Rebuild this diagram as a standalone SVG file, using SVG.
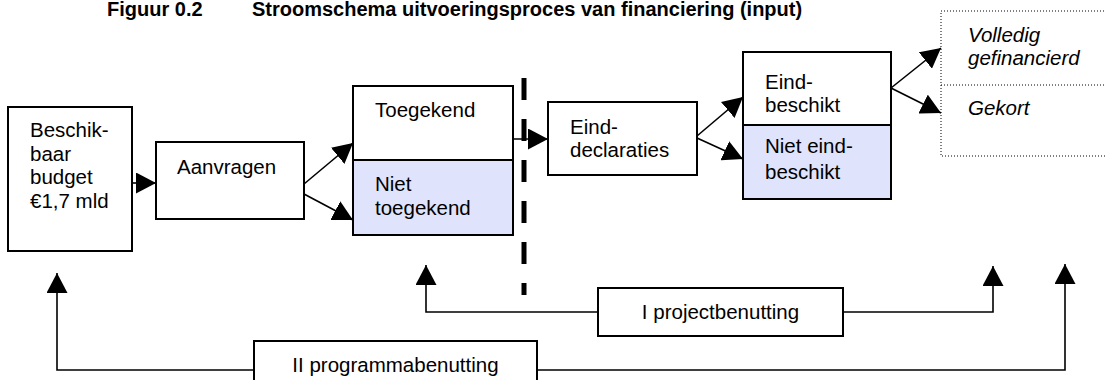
<svg xmlns="http://www.w3.org/2000/svg" width="1105" height="380" viewBox="0 0 1105 380">
<style>
  .box { fill: #ffffff; stroke: #000000; stroke-width: 2; }
  .blue { fill: #DFE3FB; stroke: #000000; stroke-width: 2; }
  .dot { fill: none; stroke: #000000; stroke-width: 1; stroke-dasharray: 1 2; }
  .lbl { font-family: "Liberation Sans", Arial, sans-serif; font-size: 20.5px; fill: #000000; }
  .it { font-style: italic; }
  .ttl { font-family: "Liberation Sans", Arial, sans-serif; font-size: 20px; font-weight: bold; fill: #000000; }
  .con { fill: none; stroke: #000000; stroke-width: 1.6; }
  .dash { fill: none; stroke: #000000; stroke-width: 5; stroke-dasharray: 22 19; }
</style>
<defs>
  <marker id="ah" markerUnits="userSpaceOnUse" markerWidth="20" markerHeight="21" viewBox="0 0 20 21" refX="20" refY="10.5" orient="auto">
    <path d="M0,0 L20,10.5 L0,21 z" fill="#000000"/>
  </marker>
</defs>
<rect width="1105" height="380" fill="#ffffff"/>
<text class="ttl" y="16"><tspan x="107">Figuur 0.2</tspan><tspan x="252">Stroomschema uitvoeringsproces van financiering (input)</tspan></text>

<g id="budget">
  <rect class="box" x="8" y="107" width="124" height="144"/>
  <text class="lbl" x="30" y="137">Beschik-</text>
  <text class="lbl" x="30" y="161">baar</text>
  <text class="lbl" x="30" y="184">budget</text>
  <text class="lbl" x="30" y="208">€1,7 mld</text>
</g>
<g id="aanvragen">
  <rect class="box" x="156" y="142" width="148" height="77"/>
  <text class="lbl" x="177" y="174">Aanvragen</text>
</g>
<g id="toegekend">
  <rect class="box" x="353" y="86" width="160" height="74"/>
  <text class="lbl" x="375" y="117">Toegekend</text>
</g>
<g id="niet-toegekend">
  <rect class="blue" x="353" y="160" width="160" height="75"/>
  <text class="lbl" x="375" y="191">Niet</text>
  <text class="lbl" x="375" y="215">toegekend</text>
</g>
<g id="einddeclaraties">
  <rect class="box" x="548" y="102" width="149" height="73"/>
  <text class="lbl" x="570" y="134">Eind-</text>
  <text class="lbl" x="570" y="157">declaraties</text>
</g>
<g id="eindbeschikt">
  <rect class="box" x="743" y="52" width="148" height="73"/>
  <text class="lbl" x="765" y="89">Eind-</text>
  <text class="lbl" x="765" y="112">beschikt</text>
</g>
<g id="niet-eindbeschikt">
  <rect class="blue" x="743" y="125" width="148" height="74"/>
  <text class="lbl" x="765" y="153">Niet eind-</text>
  <text class="lbl" x="765" y="179">beschikt</text>
</g>
<g id="volledig">
  <path class="dot" d="M1110,11 H941 V85 H1110"/>
  <text class="lbl it" x="968" y="42">Volledig</text>
  <text class="lbl it" x="968" y="65">gefinancierd</text>
</g>
<g id="gekort">
  <path class="dot" d="M941,85 V156 H1110"/>
  <text class="lbl it" x="968" y="115">Gekort</text>
</g>
<g id="projectbenutting">
  <rect class="box" x="598" y="288" width="245" height="48"/>
  <text class="lbl" x="720.5" y="319" text-anchor="middle">I projectbenutting</text>
</g>
<g id="programmabenutting">
  <rect class="box" x="254" y="341" width="283" height="50"/>
  <text class="lbl" x="395.5" y="372" text-anchor="middle">II programmabenutting</text>
</g>

<g id="connectors">
  <path class="dash" d="M524,78 V295"/>
  <path class="con" d="M132,183 H156" marker-end="url(#ah)"/>
  <path class="con" d="M304,184 L353,143" marker-end="url(#ah)"/>
  <path class="con" d="M304,194 L353,220" marker-end="url(#ah)"/>
  <path class="con" d="M513,139 H548" marker-end="url(#ah)"/>
  <path class="con" d="M697,136 L743,97" marker-end="url(#ah)"/>
  <path class="con" d="M697,138 L743,159" marker-end="url(#ah)"/>
  <path class="con" d="M891,88 L941,48" marker-end="url(#ah)"/>
  <path class="con" d="M891,88 L941,113" marker-end="url(#ah)"/>
  <path class="con" d="M598,312 H426 V265" marker-end="url(#ah)"/>
  <path class="con" d="M843,312 H993 V266" marker-end="url(#ah)"/>
  <path class="con" d="M254,370 H57 V273" marker-end="url(#ah)"/>
  <path class="con" d="M537,370 H1065 V264" marker-end="url(#ah)"/>
</g>
</svg>
